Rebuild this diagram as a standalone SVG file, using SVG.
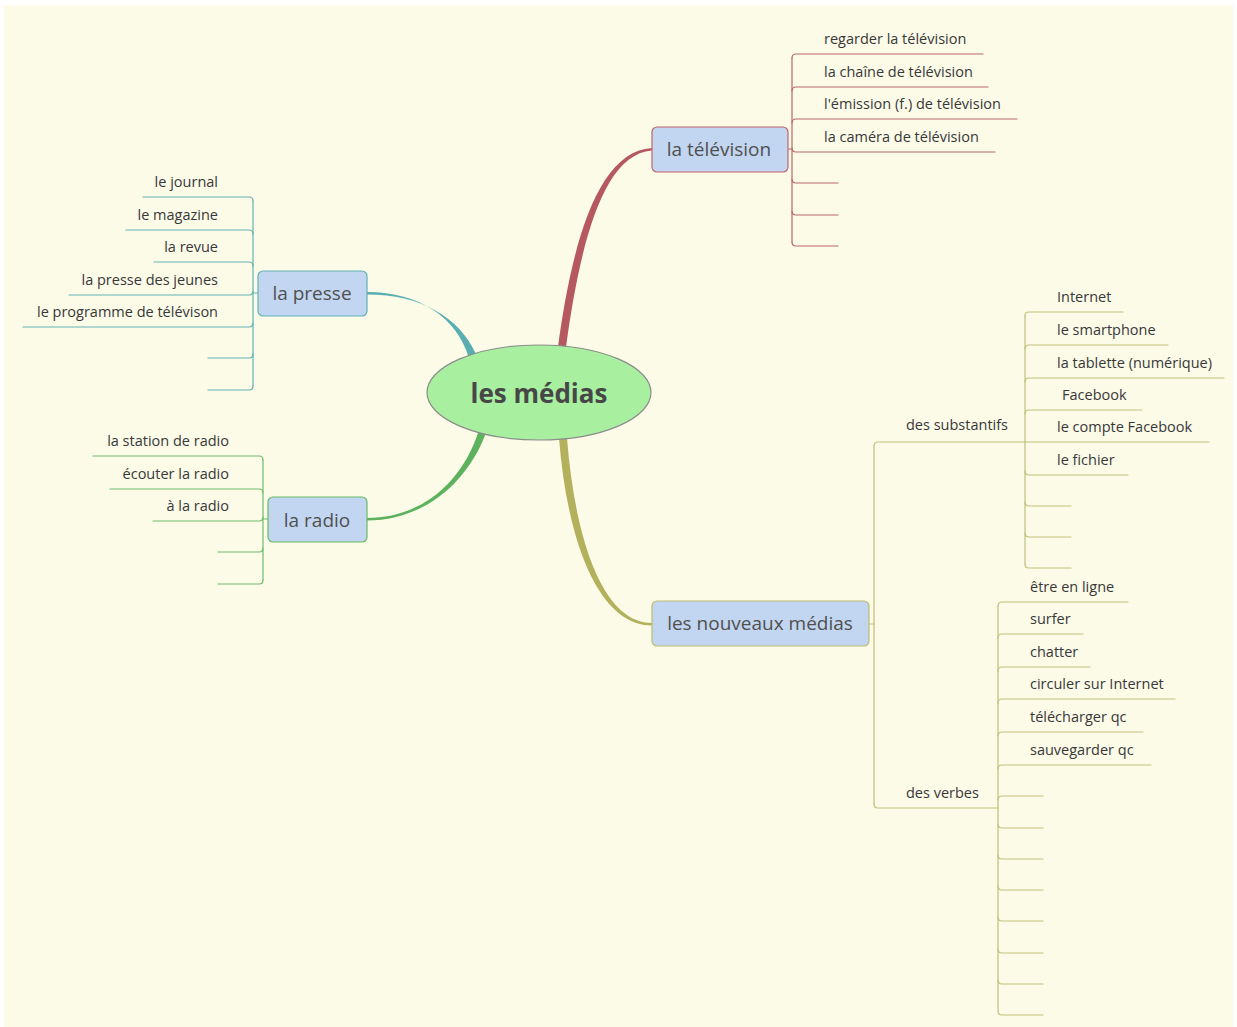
<svg xmlns="http://www.w3.org/2000/svg" width="1237" height="1027" viewBox="0 0 1237 1027">
<style>
.leaf{font-family:"Open Sans","Noto Sans",sans-serif;font-size:14.5px;fill:#383838}
.lt{text-anchor:start}
.rt{text-anchor:end}
.node rect{fill:#C3D6F1;stroke-width:1.2}
.node text{font-family:"Open Sans","Noto Sans",sans-serif;font-size:19px;fill:#505050;text-anchor:middle}
.br{fill:none;stroke-width:1.2;stroke-linecap:round}
.tv{stroke:#BA666D}
.pr{stroke:#63B3B3}
.ra{stroke:#6DBD6D}
.nm{stroke:#C2C07C}
</style>
<rect x="0" y="0" width="1237" height="1027" fill="#ffffff"/>
<rect x="4" y="5" width="1229" height="1022" fill="#FCFBE8"/>
<g id="connectors">
  <path d="M558,347 C571,250 596,151 652,148 L652,150.5 C601,154 579,252 566,347 Z" fill="#B5585F"/>
  <path d="M367,292 C420,292 457,318 469,358 L476,354 C459,317 421,294.5 367,294.5 Z" fill="#58AEB1"/>
  <path d="M367,518 C420,518 462,484 479,430 L486,433 C466,486 421,520.5 367,520.5 Z" fill="#5DB35D"/>
  <path d="M559,438 C567,540 598,625.5 652,625.5 L652,623 C603,623 575,540 567,438 Z" fill="#B3B15C"/>
  <g class="br tv">
    <path d="M788,149 L792,149"/>
    <path d="M792,58 L792,242"/>
    <path d="M792,58 Q792,54 796,54 L983,54"/>
    <path d="M792,91 Q792,87 796,87 L988,87"/>
    <path d="M792,123 Q792,119 796,119 L1017,119"/>
    <path d="M792,148 Q792,152 796,152 L995,152"/>
    <path d="M792,179 Q792,183 796,183 L838,183"/>
    <path d="M792,211 Q792,215 796,215 L838,215"/>
    <path d="M792,242 Q792,246 796,246 L838,246"/>
  </g>
  <g class="br pr">
    <path d="M258,293 L253,293"/>
    <path d="M253,201 L253,386"/>
    <path d="M253,201 Q253,197 249,197 L143,197"/>
    <path d="M253,234 Q253,230 249,230 L126,230"/>
    <path d="M253,266 Q253,262 249,262 L154,262"/>
    <path d="M253,291 Q253,295 249,295 L69,295"/>
    <path d="M253,323 Q253,327 249,327 L23,327"/>
    <path d="M253,354 Q253,358 249,358 L208,358"/>
    <path d="M253,386 Q253,390 249,390 L208,390"/>
  </g>
  <g class="br ra">
    <path d="M268,519 L263,519"/>
    <path d="M263,460 L263,580"/>
    <path d="M263,460 Q263,456 259,456 L93,456"/>
    <path d="M263,493 Q263,489 259,489 L110,489"/>
    <path d="M263,517 Q263,521 259,521 L153,521"/>
    <path d="M263,548 Q263,552 259,552 L218,552"/>
    <path d="M263,580 Q263,584 259,584 L218,584"/>
  </g>
  <g class="br nm">
    <path d="M869,624 L874,624"/>
    <path d="M874,446 L874,804"/>
    <path d="M874,446 Q874,442 878,442 L1209,442"/>
    <path d="M874,804 Q874,808 878,808 L998,808"/>
    <path d="M1025,316 L1025,564"/>
    <path d="M1025,316 Q1025,312 1029,312 L1123,312"/>
    <path d="M1025,349 Q1025,345 1029,345 L1168,345"/>
    <path d="M1025,382 Q1025,378 1029,378 L1224,378"/>
    <path d="M1025,414 Q1025,410 1029,410 L1142,410"/>
    <path d="M1025,471 Q1025,475 1029,475 L1128,475"/>
    <path d="M1025,502 Q1025,506 1029,506 L1071,506"/>
    <path d="M1025,533 Q1025,537 1029,537 L1071,537"/>
    <path d="M1025,564 Q1025,568 1029,568 L1071,568"/>
    <path d="M998,606 L998,1011"/>
    <path d="M998,606 Q998,602 1002,602 L1128,602"/>
    <path d="M998,638 Q998,634 1002,634 L1083,634"/>
    <path d="M998,671 Q998,667 1002,667 L1090,667"/>
    <path d="M998,703 Q998,699 1002,699 L1175,699"/>
    <path d="M998,736 Q998,732 1002,732 L1143,732"/>
    <path d="M998,769 Q998,765 1002,765 L1151,765"/>
    <path d="M998,800 Q998,796 1002,796 L1043,796"/>
    <path d="M998,824 Q998,828 1002,828 L1043,828"/>
    <path d="M998,855 Q998,859 1002,859 L1043,859"/>
    <path d="M998,886 Q998,890 1002,890 L1043,890"/>
    <path d="M998,917 Q998,921 1002,921 L1043,921"/>
    <path d="M998,949 Q998,953 1002,953 L1043,953"/>
    <path d="M998,980 Q998,984 1002,984 L1043,984"/>
    <path d="M998,1011 Q998,1015 1002,1015 L1043,1015"/>
  </g>
</g>
<g id="center">
  <ellipse cx="539" cy="392.5" rx="112" ry="47.5" fill="#A8F0A0" stroke="#8C8C8C" stroke-width="1.2"/>
  <text x="539" y="403" font-family="'Open Sans','Noto Sans',sans-serif" font-size="26" font-weight="bold" fill="#474747" text-anchor="middle">les médias</text>
</g>
<g id="node-television" class="node">
  <rect x="652" y="127" width="136" height="45" rx="5" stroke="#C0646B"/>
  <text x="719" y="156">la télévision</text>
</g>
<g id="node-presse" class="node">
  <rect x="258" y="271" width="109" height="45" rx="5" stroke="#5FB2B4"/>
  <text x="312" y="300">la presse</text>
</g>
<g id="node-radio" class="node">
  <rect x="268" y="497" width="99" height="45" rx="5" stroke="#66BA66"/>
  <text x="317" y="527">la radio</text>
</g>
<g id="node-nouveaux" class="node">
  <rect x="652" y="601" width="217" height="45" rx="5" stroke="#BDBB70"/>
  <text x="760" y="630">les nouveaux médias</text>
</g>
<g id="leaves-television" class="leaf lt">
  <text x="824" y="44">regarder la télévision</text>
  <text x="824" y="77">la chaîne de télévision</text>
  <text x="824" y="109">l'émission (f.) de télévision</text>
  <text x="824" y="142">la caméra de télévision</text>
</g>
<g id="leaves-presse" class="leaf rt">
  <text x="218" y="187">le journal</text>
  <text x="218" y="220">le magazine</text>
  <text x="218" y="252">la revue</text>
  <text x="218" y="285">la presse des jeunes</text>
  <text x="218" y="317">le programme de télévison</text>
</g>
<g id="leaves-radio" class="leaf rt">
  <text x="229" y="446">la station de radio</text>
  <text x="229" y="479">écouter la radio</text>
  <text x="229" y="511">à la radio</text>
</g>
<g id="sub-substantifs" class="leaf lt">
  <text x="906" y="430">des substantifs</text>
</g>
<g id="sub-verbes" class="leaf lt">
  <text x="906" y="798">des verbes</text>
</g>
<g id="leaves-substantifs" class="leaf lt">
  <text x="1057" y="302">Internet</text>
  <text x="1057" y="335">le smartphone</text>
  <text x="1057" y="368">la tablette (numérique)</text>
  <text x="1057" y="400"> <tspan x="1062">Facebook</tspan></text>
  <text x="1057" y="432">le compte Facebook</text>
  <text x="1057" y="465">le fichier</text>
</g>
<g id="leaves-verbes" class="leaf lt">
  <text x="1030" y="592">être en ligne</text>
  <text x="1030" y="624">surfer</text>
  <text x="1030" y="657">chatter</text>
  <text x="1030" y="689">circuler sur Internet</text>
  <text x="1030" y="722">télécharger qc</text>
  <text x="1030" y="755">sauvegarder qc</text>
</g>
</svg>
